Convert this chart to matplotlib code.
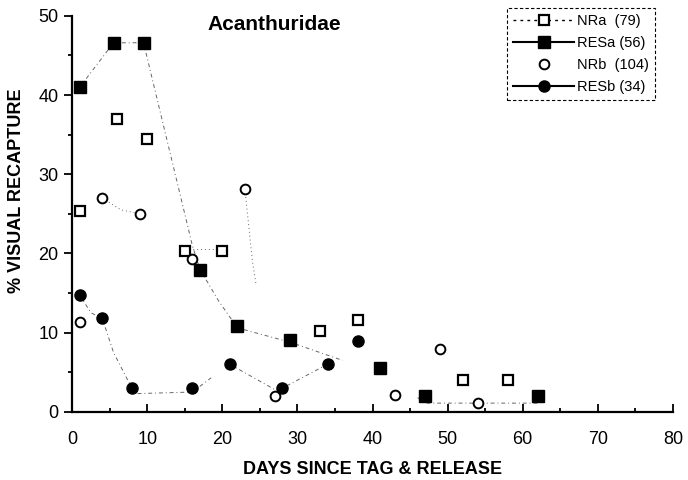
import matplotlib
matplotlib.use("Agg")
import matplotlib.pyplot as plt
from matplotlib.lines import Line2D
from matplotlib.ticker import MultipleLocator

plt.rcParams['font.family'] = ['Liberation Sans', 'DejaVu Sans']

# percent visual recapture by days since tag & release
nra_days = [1, 6, 10, 15, 20, 33, 38, 52, 58]
nra_pct = [25.3, 37.0, 34.4, 20.3, 20.3, 10.2, 11.6, 4.0, 4.0]

resa_days = [1, 5.5, 9.5, 17, 22, 29, 41, 47, 62]
resa_pct = [41.0, 46.6, 46.6, 17.9, 10.8, 9.1, 5.5, 2.0, 2.0]

nrb_days = [1, 4, 9, 16, 23, 27, 43, 49, 54]
nrb_pct = [11.4, 27.0, 25.0, 19.3, 28.1, 2.0, 2.1, 7.9, 1.1]

resb_days = [1, 4, 8, 16, 21, 28, 34, 38]
resb_pct = [14.7, 11.8, 3.0, 3.0, 6.0, 3.0, 6.0, 9.0]

# smoothed trend curves
resa_fit_x = [1, 5.5, 9.5, 16, 17, 19.5, 22, 29, 36]
resa_fit_y = [41.0, 46.6, 46.6, 21.0, 18.0, 14.0, 10.6, 8.8, 6.5]
resb_fit_x = [1, 2.5, 4, 5.5, 7.5, 8.5, 16, 18.5]
resb_fit_y = [14.7, 12.5, 11.8, 7.5, 3.8, 2.3, 2.5, 4.3]
resb_fit2_x = [21, 27, 28, 34]
resb_fit2_y = [6.0, 2.8, 3.0, 6.0]
nra_fit_x = [15, 20]
nra_fit_y = [20.5, 20.5]
nrb_fit_x = [4, 6.5, 9]
nrb_fit_y = [27.0, 25.5, 25.0]
nrb_fit2_x = [23, 24, 24.5]
nrb_fit2_y = [28.1, 19.0, 16.0]
tail_fit_x = [46, 47, 62]
tail_fit_y = [1.8, 1.1, 1.1]

fig = plt.figure(figsize=(6.88, 4.8), dpi=100)
ax = fig.add_axes([0.105, 0.142, 0.873, 0.825])

trend = dict(color='0.4', lw=0.7, dashes=(4, 3, 1, 3))
dots = dict(color='0.4', lw=0.7, dashes=(1, 3))
ax.plot(resa_fit_x, resa_fit_y, **trend)
ax.plot(resb_fit_x, resb_fit_y, **trend)
ax.plot(resb_fit2_x, resb_fit2_y, **trend)
ax.plot(nra_fit_x, nra_fit_y, **dots)
ax.plot(nrb_fit_x, nrb_fit_y, **dots)
ax.plot(nrb_fit2_x, nrb_fit2_y, **dots)
ax.plot(tail_fit_x, tail_fit_y, **trend)

ax.plot(nra_days, nra_pct, 's', ms=7, mfc='white', mec='black', mew=1.6, ls='none')
ax.plot(resa_days, resa_pct, 's', ms=8, mfc='black', mec='black', ls='none')
ax.plot(nrb_days, nrb_pct, 'o', ms=7, mfc='white', mec='black', mew=1.4, ls='none')
ax.plot(resb_days, resb_pct, 'o', ms=8, mfc='black', mec='black', ls='none')

ax.set_xlim(0, 80)
ax.set_ylim(0, 50)
ax.xaxis.set_major_locator(MultipleLocator(10))
ax.xaxis.set_minor_locator(MultipleLocator(5))
ax.yaxis.set_major_locator(MultipleLocator(10))
ax.yaxis.set_minor_locator(MultipleLocator(5))
ax.tick_params(which='both', width=1.3, labelsize=13)
ax.tick_params(axis='x', which='both', direction='in', pad=14)
ax.tick_params(axis='y', which='both', direction='out', pad=4)
ax.tick_params(which='major', length=6)
ax.tick_params(which='minor', length=3)
for side in ('top', 'right'):
    ax.spines[side].set_visible(False)
for side in ('left', 'bottom'):
    ax.spines[side].set_linewidth(1.6)

ax.set_xlabel('DAYS SINCE TAG & RELEASE', fontsize=13, fontweight='bold', labelpad=9)
ax.set_ylabel('% VISUAL RECAPTURE', fontsize=13, fontweight='bold')
ax.yaxis.set_label_coords(-0.078, 0.558)
ax.text(0.337, 0.977, 'Acanthuridae', transform=ax.transAxes, fontsize=15,
        fontweight='bold', ha='center', va='center')

handles = [
    Line2D([], [], color='black', lw=1, ls=(0, (2, 3)), marker='s', ms=7,
           mfc='white', mec='black', mew=1.6),
    Line2D([], [], color='black', lw=1.5, marker='s', ms=8, mfc='black'),
    Line2D([], [], color='none', marker='o', ms=7, mfc='white', mec='black', mew=1.4),
    Line2D([], [], color='black', lw=1.5, marker='o', ms=8, mfc='black'),
]
labels = ['NRa  (79)', 'RESa (56)', 'NRb  (104)', 'RESb (34)']
leg = ax.legend(handles, labels, loc='upper right', bbox_to_anchor=(0.97, 1.02),
                fontsize=10.5, handlelength=4.2, handletextpad=0.2,
                borderpad=0.4, labelspacing=0.55, fancybox=False, framealpha=1,
                borderaxespad=0)
leg.get_frame().set_edgecolor('black')
leg.get_frame().set_linestyle((0, (3, 2)))
leg.get_frame().set_linewidth(0.8)

fig.savefig('out.png', dpi=100)
